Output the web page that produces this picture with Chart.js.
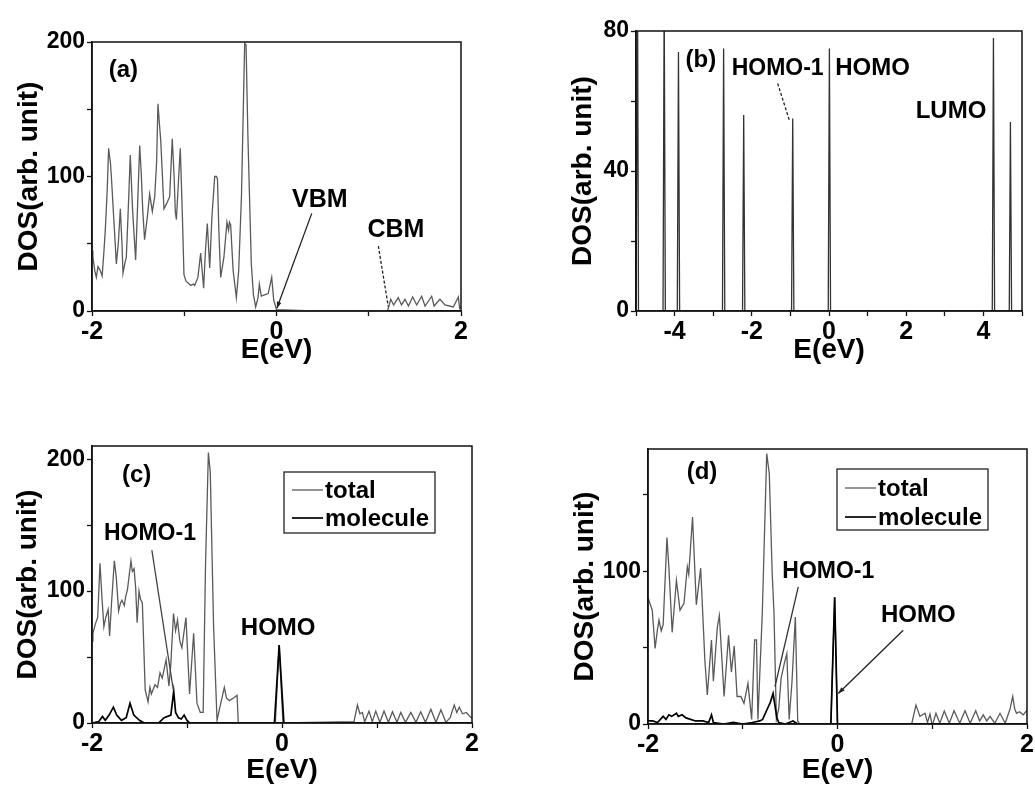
<!DOCTYPE html>
<html><head><meta charset="utf-8">
<script src="https://cdn.jsdelivr.net/npm/chart.js@4.4.1/dist/chart.umd.min.js"></script>
<style>
html,body{margin:0;padding:0;background:#fff;}
#wrap{position:relative;width:1035px;height:788px;overflow:hidden;background:#fff;}
canvas{position:absolute;}
</style></head><body>
<div id="wrap">
<canvas id="ca" width="517" height="394" style="left:0;top:0"></canvas>
<canvas id="cb" width="518" height="394" style="left:517px;top:0"></canvas>
<canvas id="cc" width="517" height="394" style="left:0;top:394px"></canvas>
<canvas id="cd" width="518" height="394" style="left:517px;top:394px"></canvas>
</div>
<script>
// ---------- data: panel (a) total DOS ----------
const aEnergy = [-2.00,-1.99,-1.97,-1.953,-1.935,-1.917,-1.90,-1.89,-1.87,-1.856,-1.835,-1.82,-1.80,-1.79,-1.765,-1.736,-1.715,-1.693,-1.675,-1.664,-1.645,-1.628,-1.61,-1.585,-1.56,-1.527,-1.505,-1.483,-1.466,-1.45,-1.43,-1.40,-1.375,-1.346,-1.32,-1.30,-1.285,-1.27,-1.255,-1.22,-1.19,-1.158,-1.13,-1.11,-1.097,-1.085,-1.06,-1.043,-1.02,-1.003,-0.98,-0.96,-0.93,-0.90,-0.887,-0.87,-0.852,-0.822,-0.79,-0.77,-0.75,-0.724,-0.70,-0.67,-0.65,-0.64,-0.625,-0.605,-0.57,-0.537,-0.52,-0.51,-0.497,-0.47,-0.435,-0.41,-0.38,-0.36,-0.345,-0.33,-0.31,-0.273,-0.25,-0.226,-0.20,-0.186,-0.165,-0.13,-0.09,-0.052,-0.03,0.00,0.40,0.80,1.20,1.212,1.238,1.27,1.32,1.355,1.393,1.43,1.476,1.52,1.574,1.61,1.682,1.708,1.772,1.826,1.917,1.971,1.985,2.00];
const aDOS    = [45,40,30,25,33,31,28,26,45,60,90,121,110,100,70,35,50,76,50,28,35,40,70,116,75,38,80,123,102,75,53,70,87,74,85,110,154,140,127,76,80,85,128,100,74,68,100,121,70,27,22,21,19,20,19,22,25,43,17,45,65,32,70,100,100,98,60,25,40,66,60,66,64,30,10,30,85,150,199,198,130,35,12,3,10,20,11,12,13,25,8,1,0,0,0,2,8.7,4.5,9.9,4.5,8.7,3.7,10.4,4.5,11,3.7,11,3.7,8.7,4.5,3,10.4,2,3];

// ---------- data: panel (b) isolated molecule levels ----------
const bEnergy = [-5.00,-4.985,-4.96,-4.935,-4.30,-4.27,-4.24,-3.93,-3.90,-3.87,-2.76,-2.73,-2.70,-2.24,-2.21,-2.18,-0.97,-0.94,-0.91,-0.02,0.01,0.04,4.23,4.26,4.29,4.67,4.70,4.73,5.00];
const bDOS    = [0,0,90,0,0,90,0,0,74,0,0,75,0,0,56,0,0,55,0,0,75,0,0,78,0,0,54,0,0];

// ---------- data: panel (c) ----------
const cTotalEnergy = [-2.00,-1.99,-1.965,-1.94,-1.916,-1.895,-1.875,-1.855,-1.83,-1.815,-1.795,-1.765,-1.745,-1.72,-1.70,-1.685,-1.66,-1.645,-1.627,-1.59,-1.575,-1.557,-1.54,-1.525,-1.505,-1.49,-1.47,-1.44,-1.41,-1.39,-1.375,-1.337,-1.31,-1.284,-1.26,-1.22,-1.19,-1.17,-1.142,-1.12,-1.10,-1.075,-1.054,-1.011,-0.973,-0.93,-0.895,-0.86,-0.83,-0.805,-0.775,-0.755,-0.72,-0.684,-0.66,-0.607,-0.585,-0.555,-0.51,-0.473,-0.46,-0.07,-0.03,0.01,0.758,0.794,0.82,0.846,0.87,0.916,0.95,0.987,1.03,1.074,1.12,1.163,1.21,1.25,1.30,1.356,1.41,1.46,1.51,1.567,1.62,1.673,1.725,1.77,1.813,1.84,1.866,1.90,1.94,1.99,2.00];
const cTotalDOS    = [62,68,75,80,121,95,73,80,86,66,90,123,111,85,91,93,89,96,101,123,115,117,102,76,100,94,91,25,16,27,22,29,27,38,34,48,28,45,83,70,78,62,57,80,22,68,15,8,8,120,205,190,73,2,10,27,19,17,19,21,0,0,59,0,1,13.6,7,8,1,9,1,9,0.5,9,0.5,8.5,0.5,8,0.5,8,0.5,8.5,0.5,10.5,0.5,10,0.5,4,13.6,8,12,7,8,4,4];
const cMolEnergy   = [-2.00,-1.93,-1.89,-1.86,-1.82,-1.775,-1.74,-1.69,-1.64,-1.60,-1.56,-1.50,-1.45,-1.30,-1.24,-1.17,-1.14,-1.12,-1.09,-1.06,-1.03,-1.00,-0.97,-0.90,-0.08,-0.03,0.02,2.00];
const cMolDOS      = [0,1,5,2,6,12,6,2,4,15,6,2,0,0,4,6,24,8,4,3,6,2,0,0,0,59,0,0];

// ---------- data: panel (d) ----------
const dTotalEnergy = [-2.00,-1.975,-1.955,-1.925,-1.90,-1.884,-1.86,-1.84,-1.80,-1.78,-1.745,-1.70,-1.662,-1.62,-1.585,-1.57,-1.53,-1.49,-1.444,-1.40,-1.374,-1.33,-1.31,-1.268,-1.247,-1.197,-1.15,-1.12,-1.09,-1.06,-1.02,-0.987,-0.945,-0.906,-0.875,-0.855,-0.84,-0.794,-0.747,-0.72,-0.69,-0.67,-0.645,-0.62,-0.595,-0.56,-0.535,-0.51,-0.48,-0.445,-0.42,-0.40,-0.07,-0.03,0.00,0.783,0.828,0.87,0.923,0.95,0.976,1.00,1.039,1.08,1.127,1.18,1.23,1.29,1.346,1.40,1.459,1.50,1.539,1.575,1.61,1.66,1.715,1.77,1.82,1.849,1.87,1.89,1.92,1.96,2.00];
const dTotalDOS    = [83,78,74.5,49.5,62,68,61,65,122,103,60,94,74.5,79,103,98,135.5,78,102,42,19,55,28,63.6,71,18,58,34,51,18,18,13.5,26.6,3,55,55,3,72,177,164,100,72,3,10,30,40,46,3,28,70,2,0,0,83,0,0,12.4,5,7,1,6.5,-1,7,0.5,8.5,0.5,8.7,0.5,8.7,0.5,8.7,2,6,2,5,0.5,7,0.5,9.6,18,10,7,8,6,9];
const dMolEnergy   = [-2.00,-1.95,-1.90,-1.84,-1.81,-1.78,-1.75,-1.70,-1.68,-1.64,-1.60,-1.55,-1.50,-1.42,-1.36,-1.33,-1.31,-1.20,-1.10,-1.00,-0.90,-0.82,-0.79,-0.74,-0.71,-0.68,-0.66,-0.64,-0.62,-0.55,-0.47,-0.42,-0.07,-0.03,0.00,2.00];
const dMolDOS      = [2,2,1,5,3,6,5,7,5,6,4,3,2,2,1,6,1,0,1,0,1,2,3,10,14,20,12,4,1,0,2,0,0,83,0,0];

// ---------- tick labels ----------
const xLabelsACD = [-2, 0, 2];
const xLabelsB   = [-4, -2, 0, 2, 4];
const yLabelsAC  = [0, 100, 200];
const yLabelsB   = [0, 40, 80];
const yLabelsD   = [0, 100];
const seriesNames = ['total', 'molecule'];

// ---------- drawing ----------
const FONT = '"Liberation Sans", Arial, Helvetica, sans-serif';
const GRAY = '#5a5a5a', BLACK = '#000';

function pts(xs, ys){ return xs.map((x,i)=>({x:x, y:ys[i]})); }

const framePlugin = {
  id:'frame',
  afterDraw(chart){
    const a = chart.chartArea, ctx = chart.ctx;
    ctx.save(); ctx.strokeStyle = '#111'; ctx.lineWidth = 1.5;
    ctx.strokeRect(a.left, a.top, a.right-a.left, a.bottom-a.top);
    ctx.restore();
  }
};

function notesPlugin(notes){
  return {
    id:'notes',
    afterDatasetsDraw(chart){
      const ctx = chart.ctx, xs = chart.scales.x, ys = chart.scales.y, a = chart.chartArea;
      ctx.save();
      (notes.lines||[]).forEach(l=>{
        const x1 = xs.getPixelForValue(l.x1), y1 = ys.getPixelForValue(l.y1);
        const x2 = xs.getPixelForValue(l.x2), y2 = ys.getPixelForValue(l.y2);
        ctx.strokeStyle = l.color || '#222'; ctx.lineWidth = l.w || 1.3;
        ctx.setLineDash(l.dash || []);
        ctx.beginPath(); ctx.moveTo(x1,y1); ctx.lineTo(x2,y2); ctx.stroke();
        ctx.setLineDash([]);
        if (l.arrow){
          const ang = Math.atan2(y2-y1, x2-x1), L = 7;
          ctx.fillStyle = l.color || '#222';
          ctx.beginPath(); ctx.moveTo(x2,y2);
          ctx.lineTo(x2 - L*Math.cos(ang-0.35), y2 - L*Math.sin(ang-0.35));
          ctx.lineTo(x2 - L*Math.cos(ang+0.35), y2 - L*Math.sin(ang+0.35));
          ctx.closePath(); ctx.fill();
        }
      });
      ctx.fillStyle = '#000'; ctx.textAlign = 'center'; ctx.textBaseline = 'middle';
      (notes.texts||[]).forEach(t=>{
        ctx.font = 'bold ' + (t.size||24) + 'px ' + FONT;
        ctx.fillText(t.t, xs.getPixelForValue(t.x), ys.getPixelForValue(t.y));
      });
      if (notes.legend){
        const g = notes.legend, bx = a.left + g.dx, by = a.top + g.dy;
        ctx.strokeStyle = '#222'; ctx.lineWidth = 1.3;
        ctx.strokeRect(bx, by, g.w, g.h);
        ctx.font = 'bold 24px ' + FONT; ctx.textAlign = 'left'; ctx.textBaseline = 'middle';
        chart.data.datasets.forEach((ds,i)=>{
          const ry = by + g.rows[i];
          ctx.strokeStyle = ds.borderColor; ctx.lineWidth = ds.borderWidth;
          ctx.beginPath(); ctx.moveTo(bx+8, ry); ctx.lineTo(bx+39, ry); ctx.stroke();
          ctx.fillStyle = '#000';
          ctx.fillText(ds.label, bx+41, ry+1);
        });
      }
      ctx.restore();
    }
  };
}

function makeChart(id, s){
  const g = s.geo;
  return new Chart(document.getElementById(id), {
    type:'scatter',
    data:{ datasets: s.series.map((d,i)=>({
      label:d.label, data:pts(d.x,d.y), showLine:true, borderColor:d.color, borderWidth:d.width,
      pointRadius:0, pointHoverRadius:0, fill:false, tension:0, order: s.series.length - i
    }))},
    options:{
      responsive:false, animation:false, events:[],
      layout:{ autoPadding:false, padding:{left:0, top:g.padTop, right:g.padRight, bottom:0} },
      plugins:{ legend:{display:false}, tooltip:{enabled:false} },
      scales:{
        x:{ type:'linear', min:s.xMin, max:s.xMax,
          ticks:{ stepSize:s.xStep, autoSkip:false, maxRotation:0, includeBounds:false,
            callback:v => s.xLabels.includes(v) ? String(v) : '',
            font:{family:FONT, size:25, weight:'bold'}, color:'#000', padding:1 },
          grid:{ display:true, drawOnChartArea:false, drawTicks:true, tickLength:5, tickColor:'#111', tickWidth:1.3 },
          border:{ display:true, color:'#111', width:1.5 },
          title:{ display:true, text:'E(eV)', color:'#000', font:{family:FONT, size:28, weight:'bold'}, padding:{top:0, bottom:g.xTitlePad} },
          afterFit(sc){ sc.height = g.xAxisH; }
        },
        y:{ type:'linear', min:s.yMin, max:s.yMax,
          ticks:{ stepSize:s.yStep, autoSkip:false, includeBounds:false,
            callback:v => s.yLabels.includes(v) ? String(v) : '',
            font:{family:FONT, size:23, weight:'bold'}, color:'#000', padding:2 },
          grid:{ display:true, drawOnChartArea:false, drawTicks:true, tickLength:5, tickColor:'#111', tickWidth:1.3 },
          border:{ display:true, color:'#111', width:1.5 },
          title:{ display:true, text:'DOS(arb. unit)', color:'#000', font:{family:FONT, size:28, weight:'bold'}, padding:{top:g.yTitlePad, bottom:0} },
          afterFit(sc){ sc.width = g.yAxisW; }
        }
      }
    },
    plugins:[framePlugin, notesPlugin(s.notes)]
  });
}

// panel (a)
makeChart('ca', {
  series:[{label:seriesNames[0], x:aEnergy, y:aDOS, color:GRAY, width:1.3}],
  xMin:-2, xMax:2, xStep:1, xLabels:xLabelsACD,
  yMin:0, yMax:200, yStep:50, yLabels:yLabelsAC,
  geo:{yAxisW:92, xAxisH:83, padTop:42, padRight:56, yTitlePad:12, xTitlePad:27},
  notes:{
    texts:[{t:'(a)', x:-1.66, y:179}, {t:'VBM', x:0.47, y:82.5, size:25}, {t:'CBM', x:1.295, y:60, size:25}],
    lines:[{x1:0.382, y1:72.6, x2:0.004, y2:2, arrow:true},
           {x1:1.104, y1:48.3, x2:1.212, y2:3.2, dash:[3,2]}]
  }
});

// panel (b)
makeChart('cb', {
  series:[{label:'molecule', x:bEnergy, y:bDOS, color:'#333', width:1.3}],
  xMin:-5, xMax:5, xStep:1, xLabels:xLabelsB,
  yMin:0, yMax:80, yStep:20, yLabels:yLabelsB,
  geo:{yAxisW:119, xAxisH:83, padTop:31, padRight:13, yTitlePad:49, xTitlePad:27},
  notes:{
    texts:[{t:'(b)', x:-3.32, y:71.7}, {t:'HOMO-1', x:-1.33, y:69.3, size:23}, {t:'HOMO', x:1.13, y:69.3}, {t:'LUMO', x:3.16, y:57}],
    lines:[{x1:-1.33, y1:65, x2:-1.03, y2:54.6, dash:[3,2]}]
  }
});

// panel (c)
makeChart('cc', {
  series:[{label:seriesNames[0], x:cTotalEnergy, y:cTotalDOS, color:GRAY, width:1.3},
          {label:seriesNames[1], x:cMolEnergy, y:cMolDOS, color:BLACK, width:1.7}],
  xMin:-2, xMax:2, xStep:1, xLabels:xLabelsACD,
  yMin:0, yMax:210, yStep:50, yLabels:yLabelsAC,
  geo:{yAxisW:92, xAxisH:65, padTop:52, padRight:45, yTitlePad:11, xTitlePad:1},
  notes:{
    texts:[{t:'(c)', x:-1.53, y:188}, {t:'HOMO-1', x:-1.39, y:143.7, size:23}, {t:'HOMO', x:-0.04, y:71.7}],
    lines:[{x1:-1.37, y1:131, x2:-1.144, y2:25, color:'#444'}],
    legend:{dx:192, dy:26, w:151, h:61, rows:[18,46]}
  }
});

// panel (d)
makeChart('cd', {
  series:[{label:seriesNames[0], x:dTotalEnergy, y:dTotalDOS, color:GRAY, width:1.3},
          {label:seriesNames[1], x:dMolEnergy, y:dMolDOS, color:BLACK, width:1.7}],
  xMin:-2, xMax:2, xStep:1, xLabels:xLabelsACD,
  yMin:0, yMax:180, yStep:50, yLabels:yLabelsD,
  geo:{yAxisW:131, xAxisH:64, padTop:55, padRight:8, yTitlePad:51, xTitlePad:1},
  notes:{
    texts:[{t:'(d)', x:-1.43, y:165}, {t:'HOMO-1', x:-0.097, y:99.5, size:23}, {t:'HOMO', x:0.853, y:71.2}],
    lines:[{x1:-0.414, y1:89.7, x2:-0.66, y2:24.4, color:'#333'},
           {x1:0.694, y1:61.4, x2:0.008, y2:20, arrow:true}],
    legend:{dx:189, dy:20, w:151, h:61, rows:[19,48]}
  }
});
</script>
</body></html>
